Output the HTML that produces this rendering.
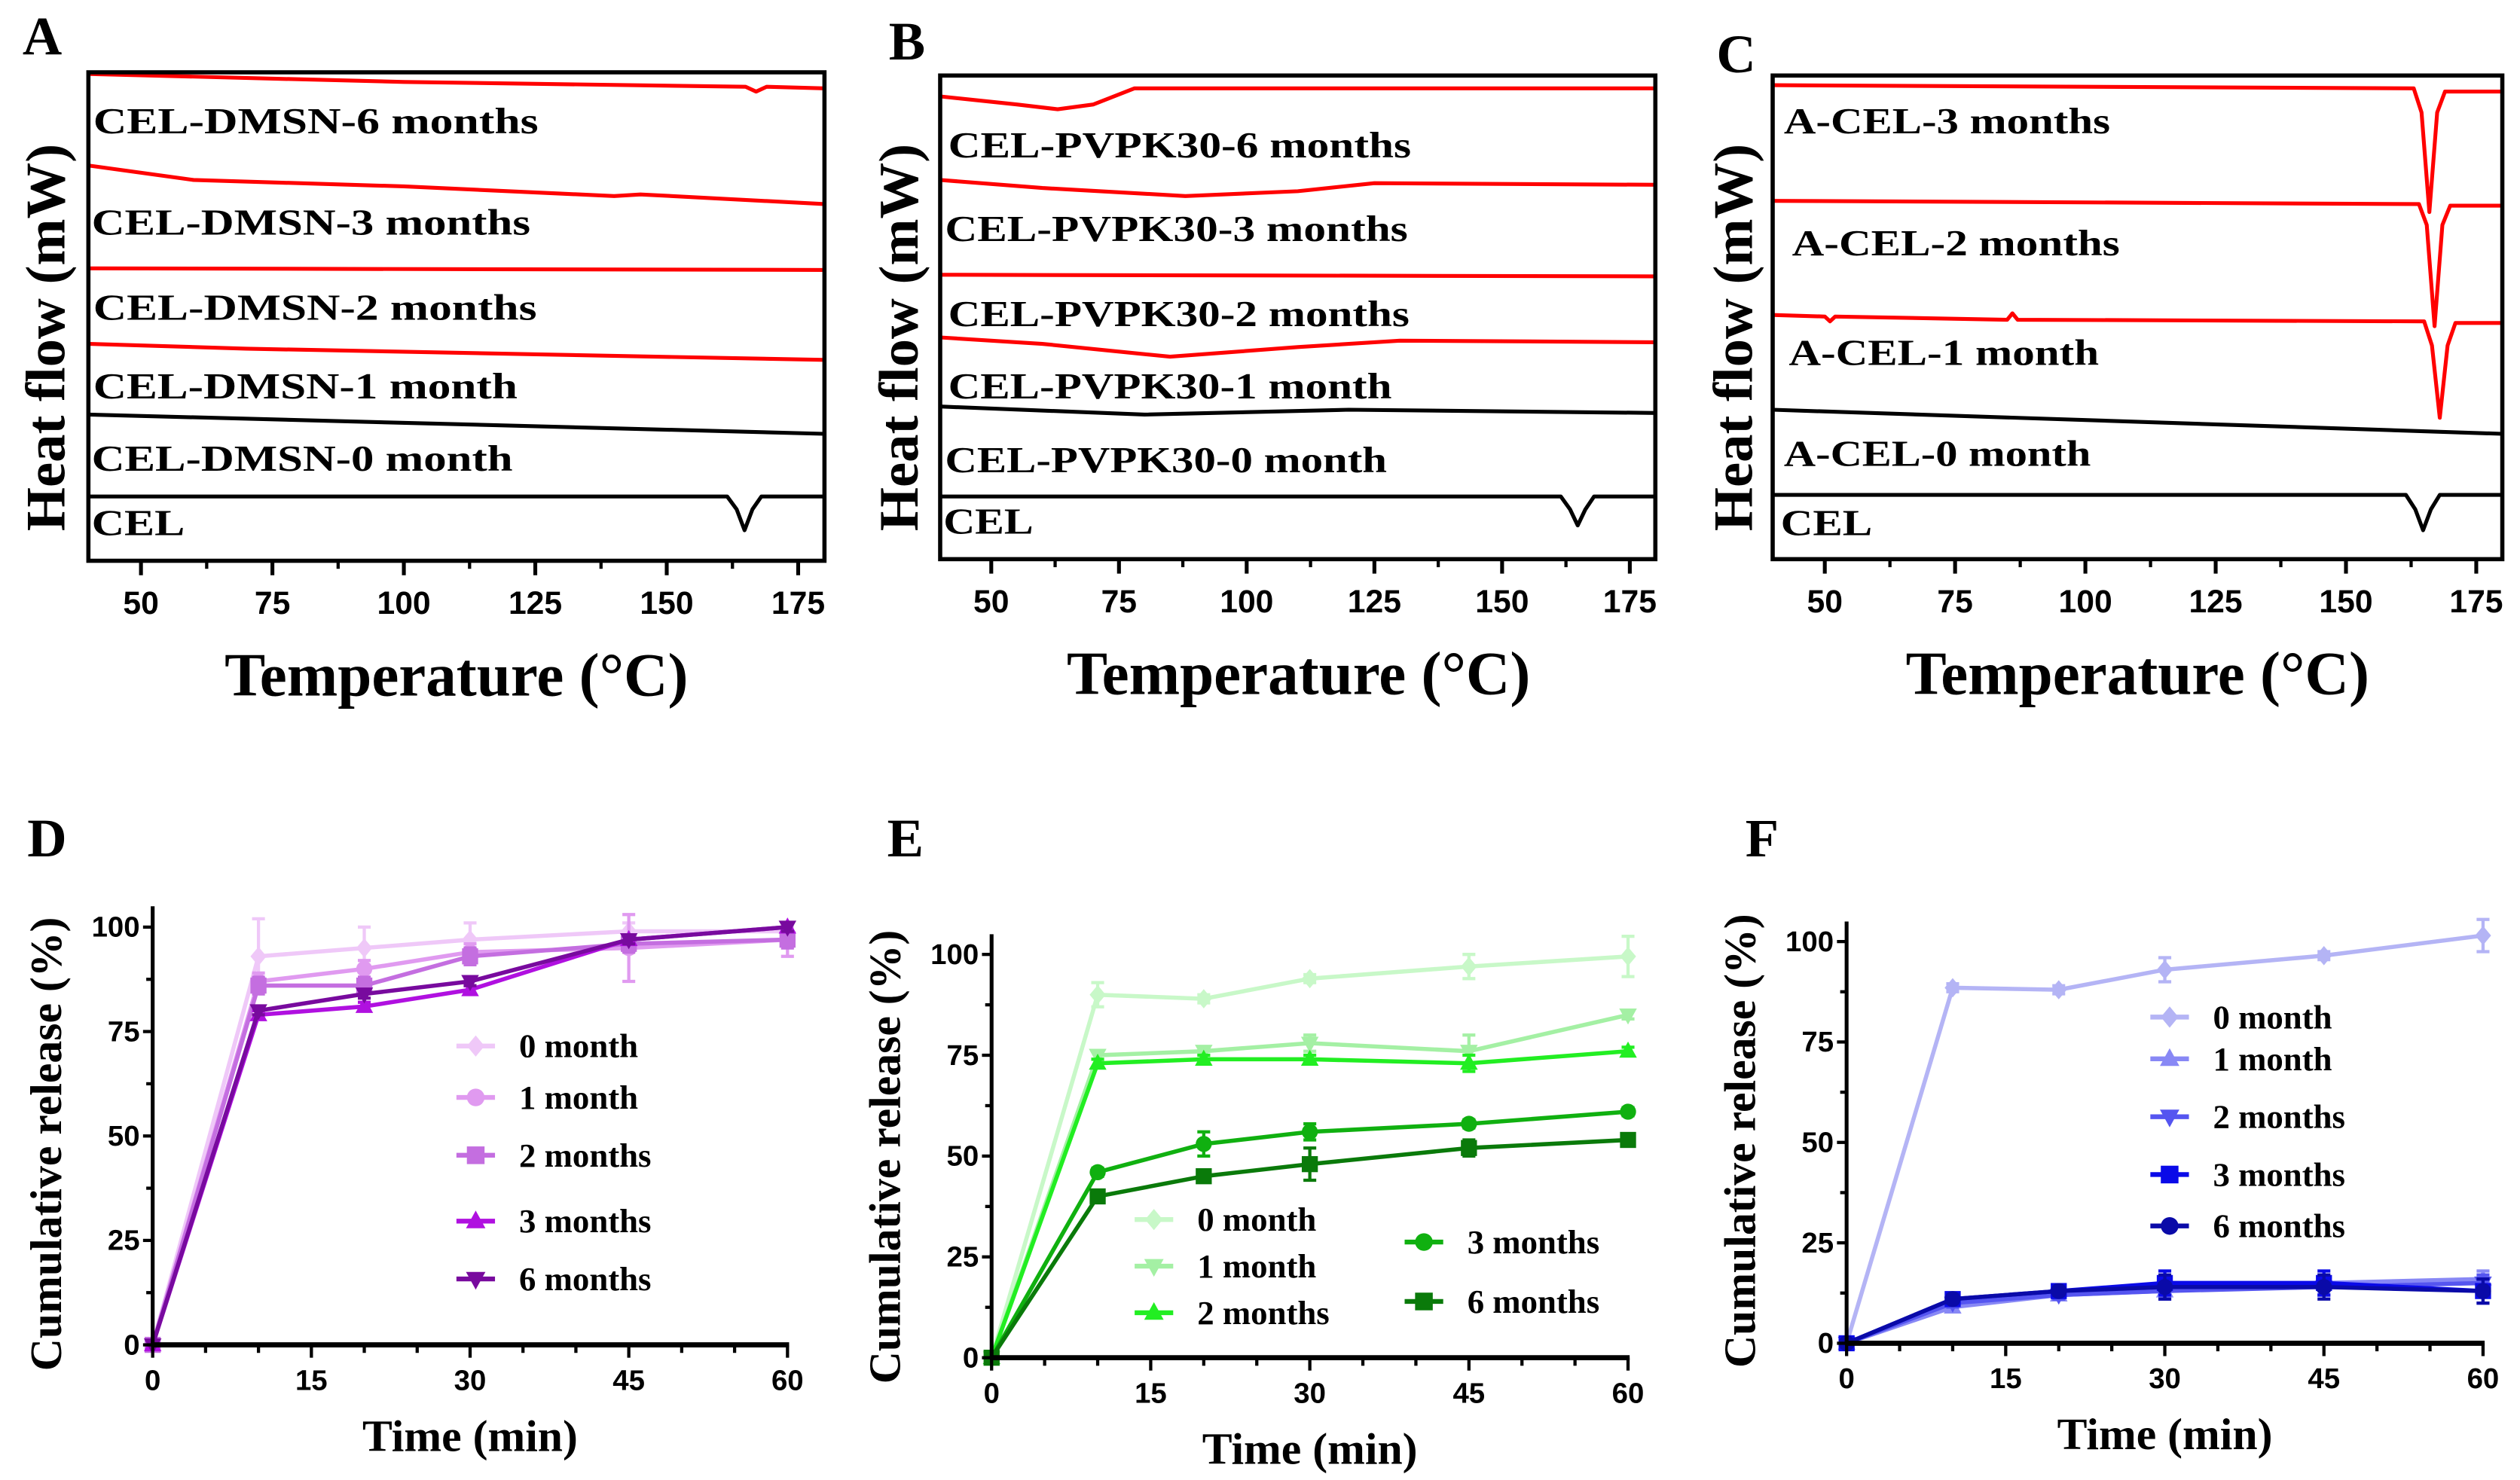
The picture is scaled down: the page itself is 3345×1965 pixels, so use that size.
<!DOCTYPE html>
<html><head><meta charset="utf-8"><style>
html,body{margin:0;padding:0;background:#fff;}
svg{display:block;}
.serif{font-family:"Liberation Serif",serif;font-weight:bold;}
.sans{font-family:"Liberation Sans",sans-serif;font-weight:bold;}
</style></head><body>
<svg id="fig" xmlns="http://www.w3.org/2000/svg" width="3345" height="1965" viewBox="0 0 1568 921.1">
<rect x="0" y="0" width="1568" height="921.1" fill="#fff"/>
</svg>
<script>
// ===== DSC data (temperature knots, heat flow arbitrary units) =====
const dscTicks = [50,75,100,125,150,175];
// Panel A
const aT6=[40,100,165,167,169,180], aV6=[30.4,29.9,29.6,29.3,29.6,29.5];
const aT3=[40,60,100,140,145,180], aV3=[24.7,23.8,23.4,22.8,22.9,22.3];
const aT2=[40,180], aV2=[18.3,18.2];
const aT1=[40,70,180], aV1=[13.6,13.3,12.6];
const aT0=[40,180], aV0=[9.2,8.0];
const aTC=[40,161.5,163.3,164.8,166.3,168,180], aVC=[4.1,4.1,3.3,2.0,3.3,4.1,4.1];
// Panel B
const bT6=[40,55,63,70,78,180], bV6=[29.0,28.5,28.2,28.5,29.5,29.5];
const bT3=[40,60,88,110,125,180], bV3=[23.8,23.3,22.8,23.1,23.6,23.5];
const bT2=[40,180], bV2=[17.9,17.8];
const bT1=[40,60,85,110,130,180], bV1=[14.0,13.6,12.8,13.4,13.8,13.7];
const bT0=[40,80,120,180], bV0=[9.7,9.2,9.5,9.3];
const bTC=[40,161.5,163.3,164.8,166.3,168,180], bVC=[4.1,4.1,3.3,2.3,3.3,4.1,4.1];
// Panel C
const cT3=[40,163,164.5,166,167.5,169,180], cV3=[29.7,29.5,28.0,21.8,28.0,29.3,29.3];
const cT2=[40,164,165.5,167,168.5,170,180], cV2=[22.5,22.3,21.0,14.7,21.0,22.2,22.2];
const cT1=[40,50,51,52,85,86,87,165,166.5,168,169.5,171,180], cV1=[15.4,15.3,15.0,15.3,15.1,15.5,15.1,15.0,13.5,9.0,13.5,14.9,14.9];
const cT0=[40,180], cV0=[9.5,8.0];
const cTC=[40,161.5,163.3,164.8,166.3,168,180], cVC=[4.2,4.2,3.3,2.0,3.3,4.2,4.2];

// ===== Release data =====
const times=[0,10,20,30,45,60];
const relTicksX=[0,15,30,45,60];
const relTicksY=[0,25,50,75,100];
const d0=[0,93,95,97,99,99], d0e=[0,9,5,4,2,1];
const d1=[0,87,90,94,95,97], d1e=[0,2,2,2,8,4];
const d2=[0,86,86,93,96,97], d2e=[0,2,2,2,2,2];
const d3=[0,79,81,85,97,100], d3e=[0,1,1,1,1,1];
const d6=[0,80,84,87,97,100], d6e=[0,1,1,1,1,1];
const e0=[0,90,89,94,97,99.5], e0e=[0,3,1,1,3,5];
const e1=[0,75,76,78,76,85], e1e=[0,1,1,2,4,1];
const e2=[0,73,74,74,73,76], e2e=[0,1,1,1,2,1];
const e3=[0,46,53,56,58,61], e3e=[0,1,3,2,1,1];
const e6=[0,40,45,48,52,54], e6e=[0,1,1,4,2,1];
const f0=[0,88.5,88,93,96.5,101.5], f0e=[0,1,1,3,1,4];
const f1=[0,9,12,13,15,16], f1e=[0,1,1,2,2,2];
const f2=[0,10,12,13,14,15], f2e=[0,1,1,2,2,2];
const f3=[0,11,13,15,15,13], f3e=[0,1,1,3,3,3];
const f6=[0,11,13,14,14,13], f6e=[0,1,1,3,3,3];

const NS="http://www.w3.org/2000/svg";
const svg=document.getElementById('fig');
function mk(tag,attrs,parent,text){const e=document.createElementNS(NS,tag);for(const k in attrs)e.setAttribute(k,attrs[k]);if(text!==undefined)e.textContent=text;(parent||svg).appendChild(e);return e;}

// ===== DSC panels =====
function dscPanel(o){
  const g=mk('g',{});
  
  
  const sx=t=>o.x0+(t-40)*(o.x1-o.x0)/140;
  const sy=v=>350-v*10;
  const lt=mk('text',{x:o.lx,y:o.ly,'font-size':34,class:'serif'},g,o.letter);
  
  
  o.curves.forEach(c=>{
    const p=mk('polyline',{points:c.T.map((t,i)=>sx(t)+','+sy(c.V[i])).join(' '),fill:'none',stroke:c.col,'stroke-width':2.4,'stroke-linejoin':'round'},g);
    
    
    const tx=mk('text',{x:c.lx0,y:c.ly,'font-size':23,class:'serif',textLength:c.lx1-c.lx0,lengthAdjust:'spacingAndGlyphs'},g,c.label);
    
    
  });
  const box=mk('rect',{x:o.x0,y:o.y0,width:o.x1-o.x0,height:o.y1-o.y0,fill:'none',stroke:'#000','stroke-width':2.6},g);
  
  
  dscTicks.forEach(t=>{
    mk('line',{x1:sx(t),x2:sx(t),y1:o.y1,y2:o.y1+9,stroke:'#000','stroke-width':2.4},g);
    if(t+12.5<180)mk('line',{x1:sx(t+12.5),x2:sx(t+12.5),y1:o.y1,y2:o.y1+5,stroke:'#000','stroke-width':2},g);
    const tl=mk('text',{x:sx(t),y:o.y1+33,'font-size':20,class:'sans','text-anchor':'middle'},g,String(t));
    
    
  });
  const xt=mk('text',{x:o.tx,y:o.y1+84,'font-size':38,class:'serif','text-anchor':'middle'},g,'Temperature (°C)');
  
  
  const yt=mk('text',{x:0,y:0,'font-size':35,class:'serif','text-anchor':'middle',transform:`translate(${o.yx},${o.yc}) rotate(-90)`},g,'Heat flow (mW)');
  
  
}
const RED='#ff0000', BLK='#000';
dscPanel({name:'panel-a',letter:'A',lx:14,ly:34,x0:55,x1:513,y0:45,y1:349,tx:284,yx:40,yc:210,curves:[
 {id:'6m',T:aT6,V:aV6,col:RED,label:'CEL-DMSN-6 months',lx0:58,lx1:335,ly:83},
 {id:'3m',T:aT3,V:aV3,col:RED,label:'CEL-DMSN-3 months',lx0:57,lx1:330,ly:146},
 {id:'2m',T:aT2,V:aV2,col:RED,label:'CEL-DMSN-2 months',lx0:58,lx1:334,ly:199},
 {id:'1m',T:aT1,V:aV1,col:RED,label:'CEL-DMSN-1 month',lx0:58,lx1:322,ly:248},
 {id:'0m',T:aT0,V:aV0,col:BLK,label:'CEL-DMSN-0 month',lx0:57,lx1:319,ly:293},
 {id:'cel',T:aTC,V:aVC,col:BLK,label:'CEL',lx0:57,lx1:115,ly:333}]});
dscPanel({name:'panel-b',letter:'B',lx:553,ly:37,x0:585,x1:1030,y0:47,y1:348,tx:808,yx:571,yc:210,curves:[
 {id:'6m',T:bT6,V:bV6,col:RED,label:'CEL-PVPK30-6 months',lx0:590,lx1:878,ly:98},
 {id:'3m',T:bT3,V:bV3,col:RED,label:'CEL-PVPK30-3 months',lx0:588,lx1:876,ly:150},
 {id:'2m',T:bT2,V:bV2,col:RED,label:'CEL-PVPK30-2 months',lx0:590,lx1:877,ly:203},
 {id:'1m',T:bT1,V:bV1,col:RED,label:'CEL-PVPK30-1 month',lx0:590,lx1:866,ly:248},
 {id:'0m',T:bT0,V:bV0,col:BLK,label:'CEL-PVPK30-0 month',lx0:588,lx1:863,ly:294},
 {id:'cel',T:bTC,V:bVC,col:BLK,label:'CEL',lx0:587,lx1:643,ly:332}]});
dscPanel({name:'panel-c',letter:'C',lx:1068,ly:45,x0:1103,x1:1557,y0:47,y1:348,tx:1330,yx:1090,yc:210,curves:[
 {id:'3m',T:cT3,V:cV3,col:RED,label:'A-CEL-3 months',lx0:1110,lx1:1313,ly:83},
 {id:'2m',T:cT2,V:cV2,col:RED,label:'A-CEL-2 months',lx0:1115,lx1:1319,ly:159},
 {id:'1m',T:cT1,V:cV1,col:RED,label:'A-CEL-1 month',lx0:1113,lx1:1306,ly:227},
 {id:'0m',T:cT0,V:cV0,col:BLK,label:'A-CEL-0 month',lx0:1110,lx1:1301,ly:290},
 {id:'cel',T:cTC,V:cVC,col:BLK,label:'CEL',lx0:1108,lx1:1165,ly:333}]});

// ===== Release panels =====
function marker(g,shape,x,y,col,s){
  let e;
  if(shape==='diamond')e=mk('polygon',{points:`${x},${y-s*1.2} ${x+s},${y} ${x},${y+s*1.2} ${x-s},${y}`,fill:col},g);
  else if(shape==='circle')e=mk('circle',{cx:x,cy:y,r:s,fill:col},g);
  else if(shape==='square')e=mk('rect',{x:x-s,y:y-s,width:2*s,height:2*s,fill:col},g);
  else if(shape==='tri')e=mk('polygon',{points:`${x},${y-s*1.2} ${x+s*1.1},${y+s*0.8} ${x-s*1.1},${y+s*0.8}`,fill:col},g);
  else e=mk('polygon',{points:`${x},${y+s*1.2} ${x+s*1.1},${y-s*0.8} ${x-s*1.1},${y-s*0.8}`,fill:col},g);
  
  
}
function relPanel(o){
  const g=mk('g',{});
  
  
  const sx=t=>o.x0+t*(o.x60-o.x0)/60;
  const sy=v=>o.y0-v*(o.y0-o.y100)/100;
  const lt=mk('text',{x:o.lx,y:o.ly,'font-size':34,class:'serif'},g,o.letter);
  
  
  o.series.forEach(s=>{
    const sg=mk('g',{},g);
    
    
    mk('polyline',{points:times.map((t,i)=>sx(t)+','+sy(s.v[i])).join(' '),fill:'none',stroke:s.col,'stroke-width':2.6,'stroke-linejoin':'round'},sg);
    times.forEach((t,i)=>{
      if(s.e[i]>0){
        const x=sx(t),ya=sy(s.v[i]+s.e[i]),yb=sy(s.v[i]-s.e[i]);
        mk('line',{x1:x,x2:x,y1:ya,y2:yb,stroke:s.col,'stroke-width':2},sg);
        mk('line',{x1:x-4,x2:x+4,y1:ya,y2:ya,stroke:s.col,'stroke-width':2},sg);
        mk('line',{x1:x-4,x2:x+4,y1:yb,y2:yb,stroke:s.col,'stroke-width':2},sg);
      }
      marker(sg,s.shape,sx(t),sy(s.v[i]),s.col,5);
    });
    const lg=mk('g',{},g);
    
    
    mk('line',{x1:s.mx-12,x2:s.mx+12,y1:s.my,y2:s.my,stroke:s.col,'stroke-width':3},lg);
    marker(lg,s.shape,s.mx,s.my,s.col,5.5);
    mk('text',{x:s.mx+27,y:s.my+7,'font-size':21,class:'serif'},lg,s.label);
  });
  const ax=mk('g',{},g);
  
  
  mk('line',{x1:o.x0,x2:o.x0,y1:o.y0+1,y2:sy(105),stroke:'#000','stroke-width':2.4},ax);
  mk('line',{x1:o.x0-1,x2:o.x60+1,y1:o.y0,y2:o.y0,stroke:'#000','stroke-width':3.2},ax);
  for(let t=0;t<=60;t+=5){
    const major=relTicksX.includes(t);
    mk('line',{x1:sx(t),x2:sx(t),y1:o.y0,y2:o.y0+(major?8:5),stroke:'#000','stroke-width':2},ax);
  }
  relTicksX.forEach(t=>{
    const tl=mk('text',{x:sx(t),y:o.y0+28,'font-size':18,class:'sans','text-anchor':'middle'},ax,String(t));
    
    
  });
  relTicksY.forEach(v=>{
    mk('line',{x1:o.x0-6,x2:o.x0,y1:sy(v),y2:sy(v),stroke:'#000','stroke-width':2},ax);
    if(v<100)mk('line',{x1:o.x0-4,x2:o.x0,y1:sy(v+12.5),y2:sy(v+12.5),stroke:'#000','stroke-width':2},ax);
    const tl=mk('text',{x:o.x0-8,y:sy(v)+6,'font-size':18,class:'sans','text-anchor':'end'},ax,String(v));
    
    
  });
  const xt=mk('text',{x:sx(30),y:o.y0+66,'font-size':28,class:'serif','text-anchor':'middle'},g,'Time (min)');
  
  
  const yt=mk('text',{x:0,y:0,'font-size':28,class:'serif','text-anchor':'middle',transform:`translate(${o.x0-57},${o.yc}) rotate(-90)`},g,'Cumulative release (%)');
  
  
}
relPanel({name:'panel-d',letter:'D',lx:17,ly:533,x0:95,x60:490,y0:837,y100:577,yc:712,series:[
 {id:'0m',v:d0,e:d0e,col:'#efc8f8',shape:'diamond',label:'0 month',mx:296,my:651},
 {id:'1m',v:d1,e:d1e,col:'#e09af0',shape:'circle',label:'1 month',mx:296,my:683},
 {id:'2m',v:d2,e:d2e,col:'#c46ee0',shape:'square',label:'2 months',mx:296,my:719},
 {id:'3m',v:d3,e:d3e,col:'#b010e0',shape:'tri',label:'3 months',mx:296,my:760},
 {id:'6m',v:d6,e:d6e,col:'#780a9e',shape:'inv',label:'6 months',mx:296,my:796}]});
relPanel({name:'panel-e',letter:'E',lx:552,ly:533,x0:617,x60:1013,y0:845,y100:594,yc:720,series:[
 {id:'0m',v:e0,e:e0e,col:'#c8f8c8',shape:'diamond',label:'0 month',mx:718,my:759},
 {id:'1m',v:e1,e:e1e,col:'#a4f0a4',shape:'inv',label:'1 month',mx:718,my:788},
 {id:'2m',v:e2,e:e2e,col:'#22ee22',shape:'tri',label:'2 months',mx:718,my:817},
 {id:'3m',v:e3,e:e3e,col:'#10b010',shape:'circle',label:'3 months',mx:886,my:773},
 {id:'6m',v:e6,e:e6e,col:'#0a7a0a',shape:'square',label:'6 months',mx:886,my:810}]});
relPanel({name:'panel-f',letter:'F',lx:1086,ly:533,x0:1149,x60:1545,y0:836,y100:586,yc:710,series:[
 {id:'0m',v:f0,e:f0e,col:'#b4b4f5',shape:'diamond',label:'0 month',mx:1350,my:633},
 {id:'1m',v:f1,e:f1e,col:'#8888f5',shape:'tri',label:'1 month',mx:1350,my:659},
 {id:'2m',v:f2,e:f2e,col:'#5555f0',shape:'inv',label:'2 months',mx:1350,my:695},
 {id:'3m',v:f3,e:f3e,col:'#0a0ae8',shape:'square',label:'3 months',mx:1350,my:731},
 {id:'6m',v:f6,e:f6e,col:'#0a0aa8',shape:'circle',label:'6 months',mx:1350,my:763}]});
</script>
</body></html>
